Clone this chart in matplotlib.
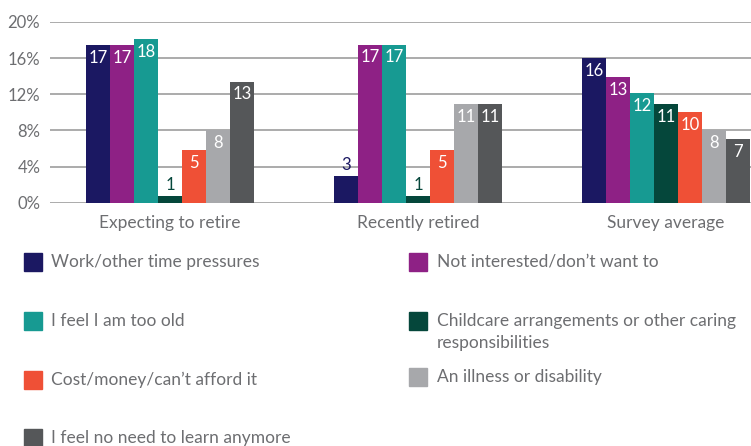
import matplotlib
matplotlib.use('Agg')
import matplotlib.pyplot as plt
import numpy as np
from matplotlib.patches import Rectangle

plt.rcParams['font.family'] = ['Lato', 'DejaVu Sans']

groups = ['Expecting to retire', 'Recently retired', 'Survey average']
series = ['Work/other time pressures', 'Not interested/don\u2019t want to',
          'I feel I am too old', 'Childcare arrangements or other caring\nresponsibilities',
          'Cost/money/can\u2019t afford it', 'An illness or disability',
          'I feel no need to learn anymore']
colors = ['#1b1862', '#8e2185', '#179a92', '#05473b', '#ef5036', '#a7a8ab', '#555759']

# bar heights (%) per series, one value per group
values = [
    [17.4, 2.9, 16.0],
    [17.4, 17.5, 13.9],
    [18.1, 17.5, 12.1],
    [0.7, 0.7, 10.9],
    [5.8, 5.8, 10.0],
    [8.0, 10.9, 8.0],
    [13.4, 10.9, 7.0],
]
# printed labels
labels = [
    [17, 3, 16],
    [17, 17, 13],
    [18, 17, 12],
    [1, 1, 11],
    [5, 5, 10],
    [8, 11, 8],
    [13, 11, 7],
]

W, H = 751, 446
fig = plt.figure(figsize=(W / 100, H / 100), dpi=100)
ax = fig.add_axes([50 / W, 1 - 202.7 / H, 701 / W, 180.7 / H])

text_grey = '#6d6e71'
x = np.arange(len(groups))
bw = 24 / 248
for i, (name, col) in enumerate(zip(series, colors)):
    pos = x + (i - 3) * bw
    ax.bar(pos, values[i], bw, color=col, zorder=3)
    for xp, v, lab in zip(pos, values[i], labels[i]):
        if v < 3.5:
            ax.text(xp, v + 0.4, str(lab), ha='center', va='bottom', color=col, fontsize=12, zorder=4)
        else:
            ax.text(xp, v - 0.5, str(lab), ha='center', va='top', color='white', fontsize=12, zorder=4)

ax.set_xlim(-0.484, 2.343)
ax.set_ylim(0, 20)
ax.set_yticks([0, 4, 8, 12, 16, 20])
ax.set_yticklabels([f'{t}%' for t in [0, 4, 8, 12, 16, 20]])
ax.yaxis.grid(True, color='#a5a5a5', linewidth=1.3, zorder=0)
ax.set_axisbelow(True)
for s in ax.spines.values():
    s.set_visible(False)
ax.tick_params(axis='y', length=0, pad=7, labelsize=12, labelcolor=text_grey)
ax.set_xticks(x)
ax.set_xticklabels(groups)
ax.tick_params(axis='x', length=0, pad=9, labelsize=12.5, labelcolor=text_grey)

# legend, two columns
def px(xp, yp):
    return xp / W, 1 - yp / H

left_rows = [0, 2, 4, 6]
right_rows = [1, 3, 5]
left_y = [261.7, 320.7, 380, 438]
right_y = [261.7, 320.7, 376.7]
for idx, yc in zip(left_rows, left_y):
    fig.patches.append(Rectangle(px(24, yc + 9), 18 / W, 18 / H, transform=fig.transFigure,
                                 color=colors[idx]))
    fig.text(*px(51, yc), series[idx], ha='left', va='center', color=text_grey, fontsize=12.5)
for idx, yc in zip(right_rows, right_y):
    fig.patches.append(Rectangle(px(409, yc + 9), 18 / W, 18 / H, transform=fig.transFigure,
                                 color=colors[idx]))
    fig.text(*px(437, yc - 8), series[idx], ha='left', va='top', color=text_grey,
             fontsize=12.5, linespacing=1.45)

fig.savefig('out.png', dpi=100)
